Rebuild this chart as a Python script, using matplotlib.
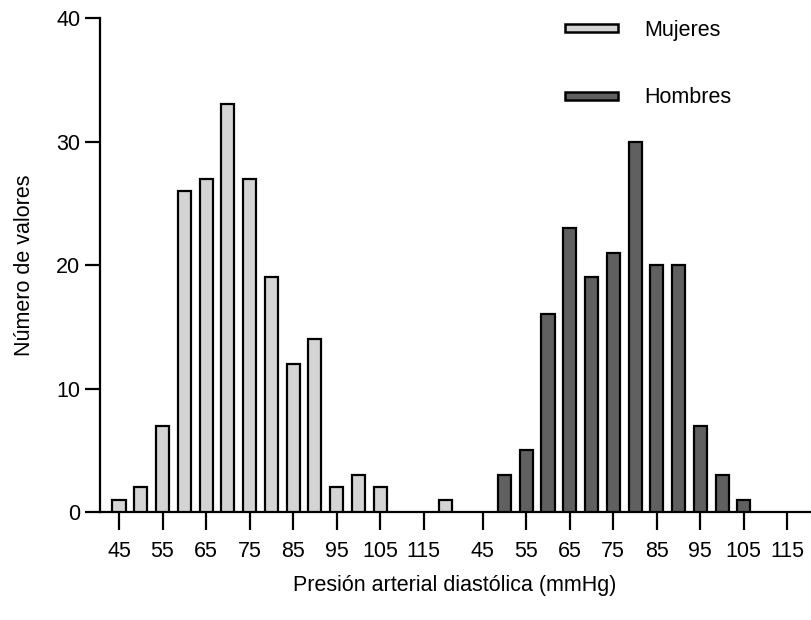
import numpy as np
import matplotlib.pyplot as plt
from matplotlib.patches import Rectangle

plt.rcParams['font.family'] = ['Liberation Sans', 'DejaVu Sans']

# bin centres (mmHg) and counts per group
bins_mujeres = [45, 50, 55, 60, 65, 70, 75, 80, 85, 90, 95, 100, 105, 110, 115, 120]
counts_mujeres = [1, 2, 7, 26, 27, 33, 27, 19, 12, 14, 2, 3, 2, 0, 0, 1]
bins_hombres = [50, 55, 60, 65, 70, 75, 80, 85, 90, 95, 100, 105]
counts_hombres = [3, 5, 16, 23, 19, 21, 30, 20, 20, 7, 3, 1]
tick_vals = [45, 55, 65, 75, 85, 95, 105, 115]

OFFSET = 83.6   # second data set is drawn to the right of the first
col_m = '#d4d4d4'
col_h = '#606060'
FS = 15.5

fig = plt.figure(figsize=(8.12, 6.2), dpi=100)
ax = fig.add_axes([0.123, 0.174, 0.875, 0.797])

bw = 3.0
xm = np.array(bins_mujeres)
cm = np.array(counts_mujeres)
keep = cm > 0
ax.bar(xm[keep], cm[keep], width=bw, color=col_m, edgecolor='black', linewidth=1.6, zorder=3)
ax.bar(np.array(bins_hombres) + OFFSET, counts_hombres, width=bw, color=col_h,
       edgecolor='black', linewidth=1.6, zorder=3)

ax.set_xlim(40.6, 203.9)
ax.set_ylim(0, 40)
ax.set_yticks([0, 10, 20, 30, 40])

xt = tick_vals + [v + OFFSET for v in tick_vals]
ax.set_xticks(xt)
ax.set_xticklabels([str(v) for v in tick_vals] * 2)

for s in ['top', 'right']:
    ax.spines[s].set_visible(False)
for s in ['left', 'bottom']:
    ax.spines[s].set_linewidth(1.6)
ax.tick_params(axis='x', length=13, width=1.6, labelsize=FS, pad=8)
ax.tick_params(axis='y', length=11, width=1.6, labelsize=FS, pad=3)

ax.set_ylabel('Número de valores', fontsize=FS, labelpad=15)
ax.set_xlabel('Presión arterial diastólica (mmHg)', fontsize=FS, labelpad=9)

handles = [Rectangle((0, 0), 1, 1, facecolor=col_m, edgecolor='black', linewidth=1.8),
           Rectangle((0, 0), 1, 1, facecolor=col_h, edgecolor='black', linewidth=1.8)]
ax.legend(handles, ['Mujeres', 'Hombres'], loc='upper left', bbox_to_anchor=(0.628, 1.035),
          frameon=False, fontsize=FS, handlelength=2.45, handleheight=0.2,
          handletextpad=1.2, labelspacing=2.15)

fig.savefig('out.png', dpi=100)
